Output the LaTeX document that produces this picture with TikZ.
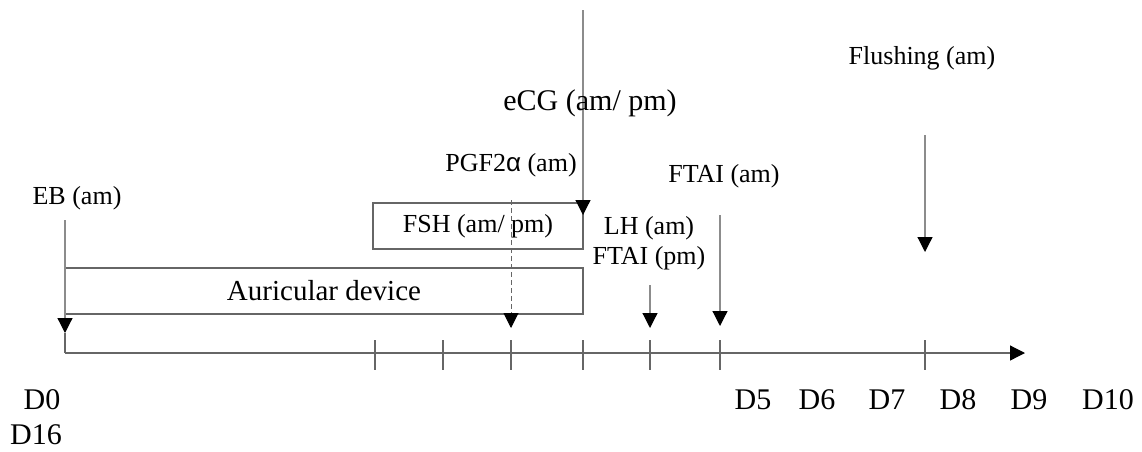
\documentclass[tikz,border=0pt]{standalone}
\usepackage{fontspec}
\setmainfont{Liberation Serif}
\newfontfamily\greekfont{Liberation Sans}
\usepackage{tikz}
\usetikzlibrary{positioning,arrows.meta,calc}
\definecolor{ink}  {HTML}{000000}
\definecolor{rule} {HTML}{666666}
\definecolor{stem} {HTML}{8C8C8C}
\tikzset{
  >={Triangle[length=15pt,width=15pt,color=ink]},
  % --- nodes
  lbl/.style   = {inner sep=0pt, text=ink, font=\fontsize{26}{30}\selectfont},
  big/.style   = {lbl, font=\fontsize{30}{34}\selectfont},
  bar/.style   = {draw=rule, line width=1.2pt, minimum height=46pt, inner sep=0pt,
                  text=ink},
  % --- edges
  e/.style     = {->, draw=stem, line width=1.2pt},
  guide/.style = {->, draw=rule, line width=1pt, dash pattern=on 5pt off 3pt},
  axis/.style  = {->, draw=rule, line width=1.2pt},
  tick/.style  = {draw=rule, line width=1.2pt},
}

\begin{document}
\begin{tikzpicture}[x=1pt,y=-1pt]
  \useasboundingbox (0,0) rectangle (1142,451);

  % treatment bars
  \node[bar, minimum width=518pt, font=\fontsize{29}{32}\selectfont]
    (auric) at (324,291) {Auricular device};
  \node[bar, minimum width=210pt, font=\fontsize{26}{30}\selectfont]
    (fsh) at (478,226) {FSH (am/ pm)};

  % time line
  \coordinate (t0) at (65,353);
  \coordinate (tend) at (1025,353);
  \draw[axis] (t0) -- (tend);
  \foreach \x in {375,443,511,583,650,720,925}
    \draw[tick] (\x,340) -- (\x,370);

  % events
  \coordinate (ebtop)   at (65,220);   \coordinate (ebtip)   at (65,333);
  \coordinate (ecgtop)  at (583,10);   \coordinate (ecgtip)  at (583,215);
  \coordinate (pgftop)  at (511,200);  \coordinate (pgftip)  at (511,328);
  \coordinate (lhtop)   at (650,285);  \coordinate (lhtip)   at (650,328);
  \coordinate (ftaitop) at (720,215);  \coordinate (ftaitip) at (720,326);
  \coordinate (fltop)   at (925,135);  \coordinate (fltip)   at (925,252);
  \draw[e] (ebtop) -- (ebtip);
  \draw[tick] (ebtip) -- (t0);
  \draw[e] (ecgtop) -- (ecgtip);
  \draw[guide] (pgftop) -- (pgftip);
  \draw[e] (lhtop) -- (lhtip);
  \draw[e] (ftaitop) -- (ftaitip);
  \draw[e] (fltop) -- (fltip);

  \node[lbl] (eb)    at (77,198)  {EB (am)};
  \node[lbl] (pgf)   at (511,165) {PGF2{\greekfont α} (am)};
  \node[big] (ecg)   at (590,103) {eCG (am/ pm)};
  \node[lbl, align=center] (lh) at (649,243) {LH (am)\\FTAI (pm)};
  \node[lbl] (ftai)  at (724,176) {FTAI (am)};
  \node[lbl] (flush) at (922,58)  {Flushing (am)};

  % day labels
  \foreach \x/\d in {42/D0,753/D5,817/D6,887/D7,958/D8,1029/D9,1108/D10}
    \node[big] (day\d) at (\x,400) {\d};
  \node[big] (dayD16) at (36,435) {D16};
\end{tikzpicture}
\end{document}
